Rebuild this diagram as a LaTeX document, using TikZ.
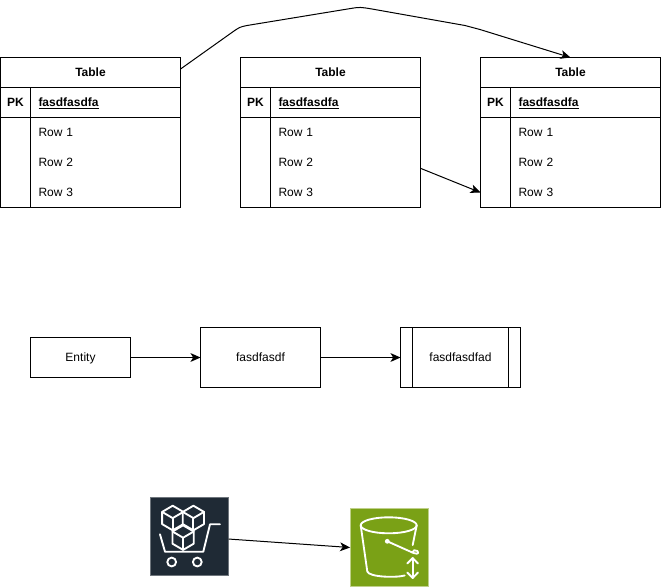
\documentclass[tikz,border=0pt]{standalone}
\usepackage{fontspec}
\setmainfont{Liberation Sans}
\usetikzlibrary{arrows.meta}
\tikzset{
  x=0.75pt,y=-0.75pt,
  every node/.style={font=\fontsize{9}{11}\selectfont,outer sep=0pt,text=black},
  line/.style={draw=black,line width=0.75pt},
  cell/.style={line,minimum width=#1,minimum height=22.5pt,inner sep=0pt,text height=8.1pt,text depth=1.9pt},
  rowcell/.style={minimum width=135pt,minimum height=22.5pt,inner sep=0pt,text width=135pt,align=left,text height=8.1pt,text depth=1.9pt},
  boxnode/.style n args={2}{line,minimum width=#1,minimum height=#2,inner sep=0pt,text height=8.1pt,text depth=1.9pt},
  conn/.style={line,-{Stealth[length=7.5pt,width=6.6pt,inset=2pt]}},
  iconline/.style={draw=white,line width=1.4pt,line join=round,line cap=round},
}
\definecolor{mpdark}{HTML}{1F2A35}
\definecolor{mpedge}{HTML}{6E757C}
\definecolor{sgreen}{HTML}{7AA116}
\definecolor{sedge}{HTML}{BFD08A}
\newcommand\dbtable[2]{%
  \begin{scope}[shift={(#2,57.5)}]
    \node[boxnode={135pt}{112.5pt}] (#1) at (90,75) {};
    \node[cell=135pt,font=\fontsize{9}{11}\selectfont\bfseries] (#1h) at (90,15) {Table};
    \node[cell=22.5pt,font=\fontsize{9}{11}\selectfont\bfseries] (#1pk) at (15,45) {PK};
    \node[cell=112.5pt,font=\fontsize{9}{11}\selectfont\bfseries,text width=112.5pt,align=left] (#1k) at (105,45) {\hspace*{6pt}\underline{fasdfasdfa}};
    \node[rowcell] (#1r1) at (90,75) {\hspace*{28.5pt}Row 1};
    \node[rowcell] (#1r2) at (90,105) {\hspace*{28.5pt}Row 2};
    \node[rowcell] (#1r3) at (90,135) {\hspace*{28.5pt}Row 3};
    \draw[line] (#1pk.south east) -- (#1pk.south east |- #1.south);
  \end{scope}}
\newcommand\isocube[2]{%
  \def\cw{10.6}\def\ch{6.2}\def\cv{12.2}%
  \fill[mpdark] (#1,#2) -- ++(\cw,\ch) -- ++(0,\cv) -- ++(-\cw,\ch) -- ++(-\cw,-\ch) -- ++(0,-\cv) -- cycle;
  \draw[iconline] (#1,#2) -- ++(\cw,\ch) -- ++(0,\cv) -- ++(-\cw,\ch) -- ++(-\cw,-\ch) -- ++(0,-\cv) -- cycle;
  \draw[iconline] (#1-\cw,#2+\ch) -- ++(\cw,\ch) -- ++(\cw,-\ch);
  \draw[iconline] (#1,#2+2*\ch) -- ++(0,\cv);}
\begin{document}
\begin{tikzpicture}
\useasboundingbox (0,0) rectangle (661,587);
\dbtable{ta}{0.5}
\dbtable{tb}{240.5}
\dbtable{tc}{480.5}

\coordinate (ca) at ([yshift=2.6pt]ta.north east |- tah.east);
\coordinate (cb) at (420.5,168.3);
\draw[conn] (ca) -- (234,31) .. controls (240,27) .. (247,25.5) -- (350,8.6)
  .. controls (360,7) .. (372,9) -- (465,25.5) .. controls (472,27) .. (480,29.5) -- (tch.north);
\draw[conn] (cb) -- (tcr3.west);

\node[boxnode={75pt}{30pt}] (ent) at (80.5,357.5) {Entity};
\node[boxnode={90pt}{45pt}] (proc) at (260.5,357.5) {fasdfasdf};
\node[boxnode={90pt}{45pt}] (sub) at (460.5,357.5) {fasdfasdfad};
\draw[line] ([xshift=9pt]sub.north west) -- ([xshift=9pt]sub.south west);
\draw[line] ([xshift=-9pt]sub.north east) -- ([xshift=-9pt]sub.south east);
\draw[conn] (ent) -- (proc);
\draw[conn] (proc) -- (sub);

% marketplace icon
\node[draw=mpedge,fill=mpdark,line width=0.6pt,minimum width=58.8pt,minimum height=58.8pt,inner sep=0pt] (mkt) at (189.5,536.5) {};
\isocube{172.7}{505.7}
\isocube{193.4}{505.7}
\isocube{183.1}{525.3}
\draw[iconline] (220,524.3) -- (210,524.3) -- (203.3,551.7) -- (165,551.7) -- (160,534.3);
\draw[iconline] (171.7,562) circle[radius=4.4];
\draw[iconline] (197.3,562) circle[radius=4.4];

% storage icon
\node[draw=sedge,fill=sgreen,line width=0.6pt,minimum width=58.8pt,minimum height=58.8pt,inner sep=0pt] (sss) at (389.3,547.5) {};
\draw[iconline] (388.7,525.3) ellipse[x radius=28,y radius=8];
\draw[iconline] (360.7,525.3) -- (367.3,571.5) .. controls (369,577) and (395,578) .. (404.7,575.5);
\draw[iconline] (416.7,525.3) -- (412.7,545);
\draw[iconline] (387.3,541.3) -- (413.5,553) .. controls (419,555) and (419,552) .. (417.5,551) .. controls (415,549.5) and (413,550) .. (412.2,552.5);
\fill[white] (387.3,541.3) circle[radius=2.4];
\draw[iconline] (412.7,558.5) -- (412.7,577.5);
\draw[iconline] (407.3,563.5) -- (412.7,558) -- (418,563.5);
\draw[iconline] (407.3,572.5) -- (412.7,578) -- (418,572.5);

\coordinate (cm) at ([yshift=-1.9pt]mkt.east);
\coordinate (cs) at (sss.west);
\draw[conn] (cm) -- (cs);
\end{tikzpicture}
\end{document}
